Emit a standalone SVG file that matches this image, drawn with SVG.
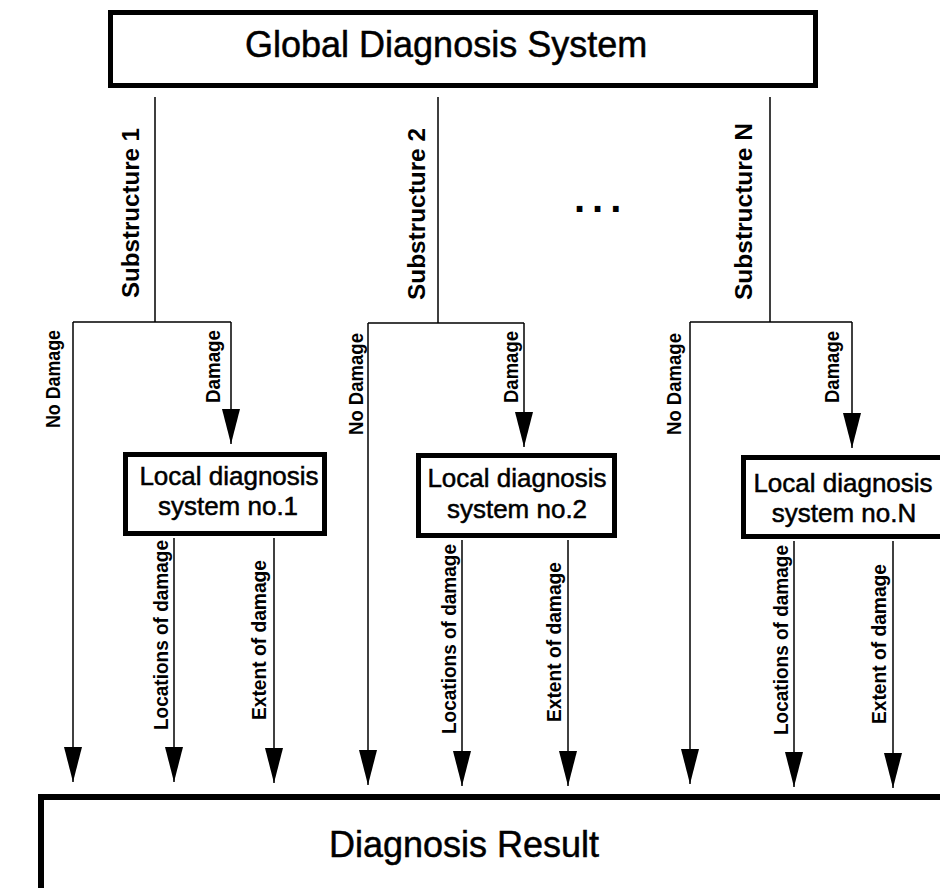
<svg xmlns="http://www.w3.org/2000/svg" width="940" height="888" viewBox="0 0 940 888">
  <style>
    .box { fill: #fff; stroke: #000; }
    .title { font-family: "Liberation Sans", Arial, sans-serif; font-size: 36px; fill: #000; stroke: #000; stroke-width: 0.5; }
    .local { font-family: "Liberation Sans", Arial, sans-serif; font-size: 26px; fill: #000; stroke: #000; stroke-width: 0.5; text-anchor: middle; }
    .sub { font-family: "Liberation Sans", Arial, sans-serif; font-size: 24px; font-weight: bold; fill: #000; }
    .lbl { font-family: "Liberation Sans", Arial, sans-serif; font-size: 21px; font-weight: bold; fill: #000; }
    .out { font-family: "Liberation Sans", Arial, sans-serif; font-size: 21px; font-weight: bold; fill: #000; }
    .dots { font-family: "Liberation Sans", Arial, sans-serif; font-size: 40px; font-weight: bold; fill: #000; letter-spacing: 7px; }
    .wire { fill: none; stroke: #000; stroke-width: 1.5; }
    .arrow { fill: none; stroke: #000; stroke-width: 1.5; marker-end: url(#head); }
  </style>
  <defs>
    <marker id="head" viewBox="0 -9 35 18" refX="35" refY="0" markerWidth="35" markerHeight="18" markerUnits="userSpaceOnUse" orient="auto">
      <path d="M0,-9 L35,0 L0,9 Z" fill="#000"/>
    </marker>
  </defs>
  <rect width="940" height="888" fill="#fff"/>

  <!-- top-level system -->
  <g id="global">
    <rect class="box" x="110.5" y="12.5" width="705" height="73" stroke-width="5"/>
    <text class="title" x="245" y="57">Global Diagnosis System</text>
  </g>

  <!-- branch labels, rotated to read bottom-up -->
  <g id="labels">
    <text class="sub" transform="translate(139,298) rotate(-90)" textLength="170" lengthAdjust="spacingAndGlyphs">Substructure 1</text>
    <text class="sub" transform="translate(425,300) rotate(-90)" textLength="172" lengthAdjust="spacingAndGlyphs">Substructure 2</text>
    <text class="sub" transform="translate(752,300) rotate(-90)" textLength="177" lengthAdjust="spacingAndGlyphs">Substructure N</text>

    <text class="lbl" transform="translate(60,428) rotate(-90)" textLength="98" lengthAdjust="spacingAndGlyphs">No Damage</text>
    <text class="lbl" transform="translate(220,403) rotate(-90)" textLength="73" lengthAdjust="spacingAndGlyphs">Damage</text>
    <text class="lbl" transform="translate(363,435) rotate(-90)" textLength="102" lengthAdjust="spacingAndGlyphs">No Damage</text>
    <text class="lbl" transform="translate(518,403) rotate(-90)" textLength="72" lengthAdjust="spacingAndGlyphs">Damage</text>
    <text class="lbl" transform="translate(681,435) rotate(-90)" textLength="102" lengthAdjust="spacingAndGlyphs">No Damage</text>
    <text class="lbl" transform="translate(839,403) rotate(-90)" textLength="72" lengthAdjust="spacingAndGlyphs">Damage</text>

    <text class="out" transform="translate(168,730) rotate(-90)" textLength="190" lengthAdjust="spacingAndGlyphs">Locations of damage</text>
    <text class="out" transform="translate(266,720) rotate(-90)" textLength="160" lengthAdjust="spacingAndGlyphs">Extent of damage</text>
    <text class="out" transform="translate(456,734) rotate(-90)" textLength="190" lengthAdjust="spacingAndGlyphs">Locations of damage</text>
    <text class="out" transform="translate(561,722) rotate(-90)" textLength="160" lengthAdjust="spacingAndGlyphs">Extent of damage</text>
    <text class="out" transform="translate(788,735) rotate(-90)" textLength="190" lengthAdjust="spacingAndGlyphs">Locations of damage</text>
    <text class="out" transform="translate(886,724) rotate(-90)" textLength="160" lengthAdjust="spacingAndGlyphs">Extent of damage</text>

    <text class="dots" x="574" y="212">...</text>
  </g>

  <!-- connectors -->
  <g id="connectors">
    <path class="wire" d="M155,97 V322 M73,322 H231"/>
    <path class="arrow" d="M73,322 V782"/>
    <path class="arrow" d="M231,322 V444"/>
    <path class="arrow" d="M174,538 V782"/>
    <path class="arrow" d="M274,538 V783"/>

    <path class="wire" d="M438,97 V323 M368,323 H524"/>
    <path class="arrow" d="M368,323 V785"/>
    <path class="arrow" d="M524,323 V447"/>
    <path class="arrow" d="M462,540 V786"/>
    <path class="arrow" d="M568,540 V786"/>

    <path class="wire" d="M770,97 V322 M690,322 H852"/>
    <path class="arrow" d="M690,322 V784"/>
    <path class="arrow" d="M852,322 V448"/>
    <path class="arrow" d="M794,541 V787"/>
    <path class="arrow" d="M893,541 V788"/>
  </g>

  <!-- local diagnosis systems -->
  <g id="local1">
    <rect class="box" x="125.5" y="454.5" width="199" height="79" stroke-width="5"/>
    <text class="local" x="229" y="485">Local diagnosis</text>
    <text class="local" x="228" y="515">system no.1</text>
  </g>
  <g id="local2">
    <rect class="box" x="418.5" y="455.5" width="196" height="80" stroke-width="5"/>
    <text class="local" x="517" y="487">Local diagnosis</text>
    <text class="local" x="517" y="518">system no.2</text>
  </g>
  <g id="localN">
    <rect class="box" x="743.5" y="457.5" width="230" height="79" stroke-width="5"/>
    <text class="local" x="843" y="492">Local diagnosis</text>
    <text class="local" x="844" y="522">system no.N</text>
  </g>

  <!-- combined result -->
  <g id="result">
    <rect class="box" x="41" y="797" width="940" height="120" stroke-width="6"/>
    <text class="title" x="464" y="857" text-anchor="middle">Diagnosis Result</text>
  </g>
</svg>
